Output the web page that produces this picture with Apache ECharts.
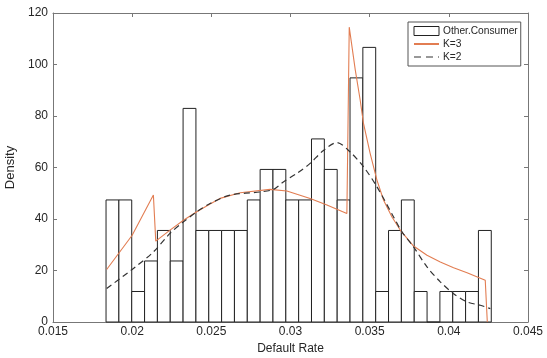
<!DOCTYPE html>
<html>
<head>
<meta charset="utf-8">
<script src="https://cdn.jsdelivr.net/npm/echarts@6/dist/echarts.min.js"></script>
<style>html,body{margin:0;padding:0;background:#fff}#c{width:547px;height:358px}</style>
</head>
<body>
<div id="c"></div>
<script>
// Histogram: 30 bins, first edge and width, density per bin
var binStart = 0.01835;
var binWidth = 0.000811;
var density = [47.4, 47.4, 11.85, 23.7, 35.55, 23.7, 82.95, 35.55, 35.55, 35.55,
               35.55, 47.4, 59.25, 59.25, 47.4, 47.4, 71.1, 59.25, 47.4, 94.8,
               106.65, 11.85, 35.55, 47.4, 11.85, 0, 11.85, 11.85, 11.85, 35.55];

// K=3 fitted density (x, y)
var k3X = [0.01839, 0.02000, 0.02134, 0.02149, 0.02239, 0.02324, 0.02408, 0.02492, 0.02555, 0.02682,
           0.02871, 0.02977, 0.03124, 0.03230, 0.03356, 0.03371, 0.03409, 0.03440, 0.03461, 0.03503,
           0.03546, 0.03588, 0.03641, 0.03693, 0.03777, 0.03862, 0.03946, 0.04030, 0.04115, 0.04230, 0.04243];
var k3Y = [20.4, 33.7, 49.3, 31.4, 35.7, 39.5, 42.8, 45.8, 48.0, 50.2,
           51.5, 50.9, 48.0, 45.4, 42.1, 114.5, 97.9, 86.2, 77.1, 65.5,
           55.1, 47.3, 40.8, 35.7, 29.5, 25.9, 23.3, 21.1, 19.1, 16.2, 0];

// K=2 fitted density (x, y)
var k2X = [0.01839, 0.02008, 0.02134, 0.02239, 0.02324, 0.02408, 0.02492, 0.02619, 0.02808, 0.02892,
           0.02955, 0.03040, 0.03124, 0.03206, 0.03293, 0.03377, 0.03461, 0.03546, 0.03651, 0.03704,
           0.03777, 0.03862, 0.03946, 0.04030, 0.04115, 0.04199, 0.04262];
var k2Y = [13.0, 20.8, 27.2, 34.4, 38.9, 42.8, 46.0, 49.3, 50.5, 51.5,
           54.4, 57.7, 61.6, 66.5, 69.7, 66.0, 60.3, 52.5, 40.8, 35.0,
           29.2, 21.4, 15.6, 11.0, 7.8, 6.5, 5.2];

var xTicks = {min: 0.015, max: 0.045, interval: 0.005};
var yTicks = {min: 0, max: 120, interval: 20};

var histData = density.map(function (d, i) {
  return [binStart + i * binWidth, binStart + (i + 1) * binWidth, d];
});
function pairs(xs, ys) { return xs.map(function (x, i) { return [x, ys[i]]; }); }

var FONT = '"Liberation Sans", Arial, sans-serif';
var axisCol = '#777';
var txtCol = '#262626';
var hidden = {opacity: 0, color: 'rgba(0,0,0,0)', borderWidth: 0};

var chart = echarts.init(document.getElementById('c'), null, {renderer: 'canvas'});
chart.setOption({
  animation: false,
  backgroundColor: '#fff',
  grid: {left: 53, right: 19, top: 13, bottom: 36, containLabel: false, outerBoundsMode: 'none'},
  legend: {
    orient: 'vertical',
    left: 408, top: 22,
    padding: [4, 3, 4, 5],
    itemWidth: 25, itemHeight: 9, itemGap: 3,
    backgroundColor: '#fff',
    borderColor: '#555', borderWidth: 1, borderRadius: 0,
    textStyle: {fontFamily: FONT, fontSize: 10.2, color: txtCol, padding: [0, 0, 0, -1]},
    data: [
      {name: 'Other.Consumer', icon: 'rect', itemStyle: {color: '#fff', borderColor: '#222', borderWidth: 1}},
      {name: 'K=3', itemStyle: hidden},
      {name: 'K=2', itemStyle: hidden, lineStyle: {type: [7, 5], width: 1.2}}
    ]
  },
  xAxis: [{
    type: 'value', min: xTicks.min, max: xTicks.max, interval: xTicks.interval,
    name: 'Default Rate', nameLocation: 'middle', nameGap: 18,
    nameTextStyle: {fontFamily: FONT, fontSize: 12, color: txtCol},
    axisLine: {onZero: false, lineStyle: {color: axisCol, width: 1}},
    axisTick: {inside: true, length: 4, lineStyle: {color: axisCol}},
    axisLabel: {fontFamily: FONT, fontSize: 12, color: txtCol, margin: 4,
      formatter: function (v) { return String(+v.toFixed(4)); }},
    splitLine: {show: false}
  }, {
    type: 'value', position: 'top', min: xTicks.min, max: xTicks.max, interval: xTicks.interval,
    axisLine: {onZero: false, lineStyle: {color: axisCol, width: 1}},
    axisTick: {inside: true, length: 4, lineStyle: {color: axisCol}},
    axisLabel: {show: false}, splitLine: {show: false}
  }],
  yAxis: [{
    type: 'value', min: yTicks.min, max: yTicks.max, interval: yTicks.interval,
    name: 'Density', nameLocation: 'middle', nameGap: 27, nameRotate: 90,
    nameTextStyle: {fontFamily: FONT, fontSize: 13, color: txtCol},
    axisLine: {show: true, onZero: false, lineStyle: {color: axisCol, width: 1}},
    axisTick: {show: true, inside: true, length: 4, lineStyle: {color: axisCol}},
    axisLabel: {fontFamily: FONT, fontSize: 12, color: txtCol, margin: 5},
    splitLine: {show: false}
  }, {
    type: 'value', position: 'right', min: yTicks.min, max: yTicks.max, interval: yTicks.interval,
    axisLine: {show: true, onZero: false, lineStyle: {color: axisCol, width: 1}},
    axisTick: {show: true, inside: true, length: 4, lineStyle: {color: axisCol}},
    axisLabel: {show: false}, splitLine: {show: false}
  }],
  series: [{
    name: 'Other.Consumer',
    type: 'custom',
    xAxisIndex: 0, yAxisIndex: 0,
    data: histData,
    itemStyle: {color: '#fff', borderColor: '#222', borderWidth: 1},
    renderItem: function (params, api) {
      var p0 = api.coord([api.value(0), api.value(2)]);
      var p1 = api.coord([api.value(1), 0]);
      return {
        type: 'rect',
        shape: {x: p0[0], y: p0[1], width: p1[0] - p0[0], height: p1[1] - p0[1]},
        style: {fill: '#fff', stroke: '#222', lineWidth: 1}
      };
    },
    encode: {x: [0, 1], y: 2}
  }, {
    name: 'K=3', type: 'line', xAxisIndex: 0, yAxisIndex: 0,
    data: pairs(k3X, k3Y), symbol: 'none', smooth: false,
    lineStyle: {color: '#e27d52', width: 1.1},
    itemStyle: {color: '#e27d52'}, z: 3
  }, {
    name: 'K=2', type: 'line', xAxisIndex: 0, yAxisIndex: 0,
    data: pairs(k2X, k2Y), symbol: 'none', smooth: 0.3,
    lineStyle: {color: '#333', width: 1.2, type: [6, 4]},
    itemStyle: {color: '#333'}, z: 4
  }]
});
</script>
</body>
</html>
